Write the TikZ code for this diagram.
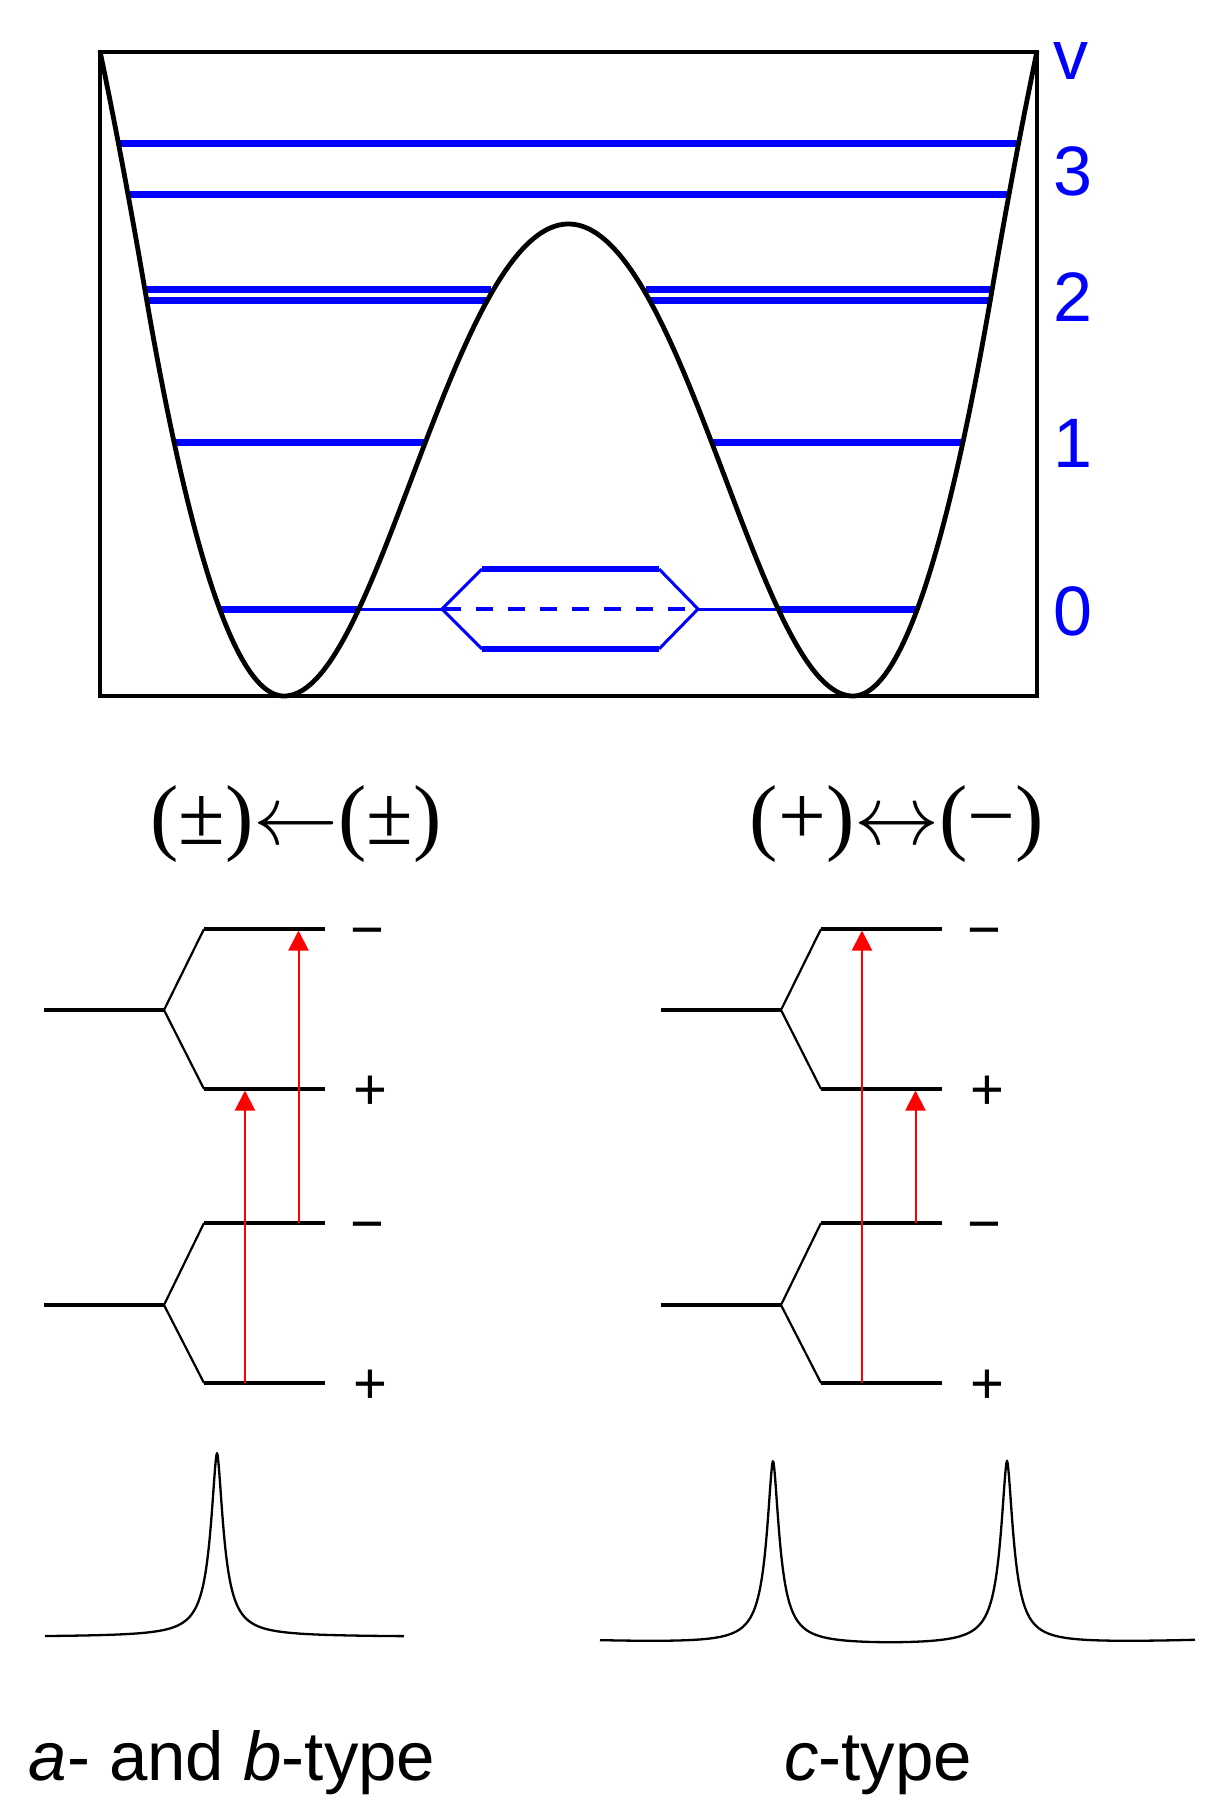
\RequirePackage{fix-cm}
\documentclass[tikz,border=0pt]{standalone}
\usepackage{fontspec}
\setmainfont{Liberation Sans}
\newfontfamily\titlefont{Liberation Serif}
\usetikzlibrary{arrows.meta}
\begin{document}
\begin{tikzpicture}[x=1pt,y=-1pt,
  thickblue/.style={blue,line width=7pt},
  thinblue/.style={blue,line width=3pt},
  pot/.style={black,line width=4.8pt,line join=round},
  lvl/.style={black,line width=4pt},
  branch/.style={black,line width=2.2pt},
  trans/.style={red,line width=2pt,-{Triangle[width=20pt,length=20pt]}},
  spec/.style={black,line width=2.3pt,line join=round},
  vlab/.style={blue,anchor=base west,inner sep=0pt,font=\fontsize{70}{80}\selectfont},
  pm/.style={anchor=base,inner sep=0pt,font=\fontsize{58}{66}\selectfont},
  ttl/.style={anchor=base,inner sep=0pt,font=\titlefont\fontsize{85}{100}\selectfont},
  btxt/.style={anchor=base,inner sep=0pt,font=\fontsize{69}{80}\selectfont},
  declare function={
    hout(\w)=(\w<1.39)*(210*\w*\w)+(\w>=1.39)*(405.7+584*(\w-1.39)-117*(\w-1.39)*(\w-1.39));
    hin(\s)=236*(1-cos(0.632689*\s))+20*sin(0.632689*\s)*sin(0.632689*\s);
    hpot(\d)=(abs(\d)>=284.5)*hout((abs(\d)-284.5)/100)+(abs(\d)<284.5)*hin(284.5-abs(\d));
    pk(\d)=184/(1+((abs(\d)+0.01)/8)^1.7);
  }
]
\useasboundingbox (0,0) rectangle (1221,1818);

% vibrational levels
\draw[thickblue] (119.5,143.6) -- (1017.5,143.6);
\draw[thickblue] (127,194) -- (1010,194);
\draw[thickblue] (145,289.5) -- (491,289.5);
\draw[thickblue] (146,300) -- (486,300);
\draw[thickblue] (646,289.5) -- (992,289.5);
\draw[thickblue] (651,300) -- (990,300);
\draw[thickblue] (175,442) -- (426,442);
\draw[thickblue] (712,442) -- (963,442);
\draw[thickblue] (219,609) -- (359,609);
\draw[thickblue] (779,609) -- (918,609);
\draw[thinblue] (359,609) -- (442,609);
\draw[thinblue] (698,609) -- (779,609);
% tunnelling splitting hexagon
\draw[thinblue,line join=round] (482,569) -- (442,609) -- (482,649);
\draw[thinblue,line join=round] (659,569) -- (698,609) -- (659,649);
\draw[blue,line width=6pt] (482,569) -- (659,569);
\draw[blue,line width=6pt] (482,649) -- (659,649);
\draw[blue,line width=4pt,dash pattern=on 17pt off 15pt] (444,609) -- (698,609);

% potential
\draw[pot] plot[domain=100:1037,samples=1200] (\x,{696-hpot(\x-568.5)});
\draw[line width=4.5pt] (100,52) rectangle (1037,696);

% labels
\node[vlab] (lv) at (1053,79) {v};
\node[vlab] (l3) at (1053,195) {3};
\node[vlab] (l2) at (1053,321) {2};
\node[vlab] (l1) at (1053,467) {1};
\node[vlab] (l0) at (1053,635) {0};

% titles
\node[ttl] (tl) at (296,844) {(±)${\leftarrow}$(±)};
\node[ttl] (tr) at (897,844) {(+)${\leftrightarrow}$(−)};

% level schemes
\foreach \ox in {0,617}{
  \foreach \yc/\yu/\yl in {1010/929/1089, 1305/1223/1383}{
    \draw[lvl] (44+\ox,\yc) -- (164+\ox,\yc);
    \draw[branch,line join=round] (204+\ox,\yu) -- (164+\ox,\yc) -- (204+\ox,\yl);
    \draw[lvl] (204+\ox,\yu) -- (325+\ox,\yu);
    \draw[lvl] (204+\ox,\yl) -- (325+\ox,\yl);
    \node[pm] (mi-\ox-\yc) at (367+\ox,\yu+20) {−};
    \node[pm] (pl-\ox-\yc) at (370+\ox,\yl+20) {+};
  }
}

% transitions
\coordinate (a1s) at (245,1383);   \coordinate (a1e) at (245,1090.5);
\coordinate (a2s) at (298.5,1223); \coordinate (a2e) at (298.5,930.5);
\coordinate (c1s) at (862,1383);   \coordinate (c1e) at (862,930.5);
\coordinate (c2s) at (915.5,1223); \coordinate (c2e) at (915.5,1090.5);
\draw[trans] (a1s) -- (a1e);
\draw[trans] (a2s) -- (a2e);
\draw[trans] (c1s) -- (c1e);
\draw[trans] (c2s) -- (c2e);

% spectra
\draw[spec] plot[domain=45:404,samples=600]
  (\x,{1637-pk(\x-217)});
\draw[spec] plot[domain=600:1195,samples=900]
  (\x,{1646-5*((\x-890)/300)^2-pk(\x-773)-pk(\x-1007)});

% captions
\node[btxt] (ab) at (232,1780) {\textit{a}- and \textit{b}-type};
\node[btxt] (ct) at (878,1780) {\textit{c}-type};
\end{tikzpicture}
\end{document}
